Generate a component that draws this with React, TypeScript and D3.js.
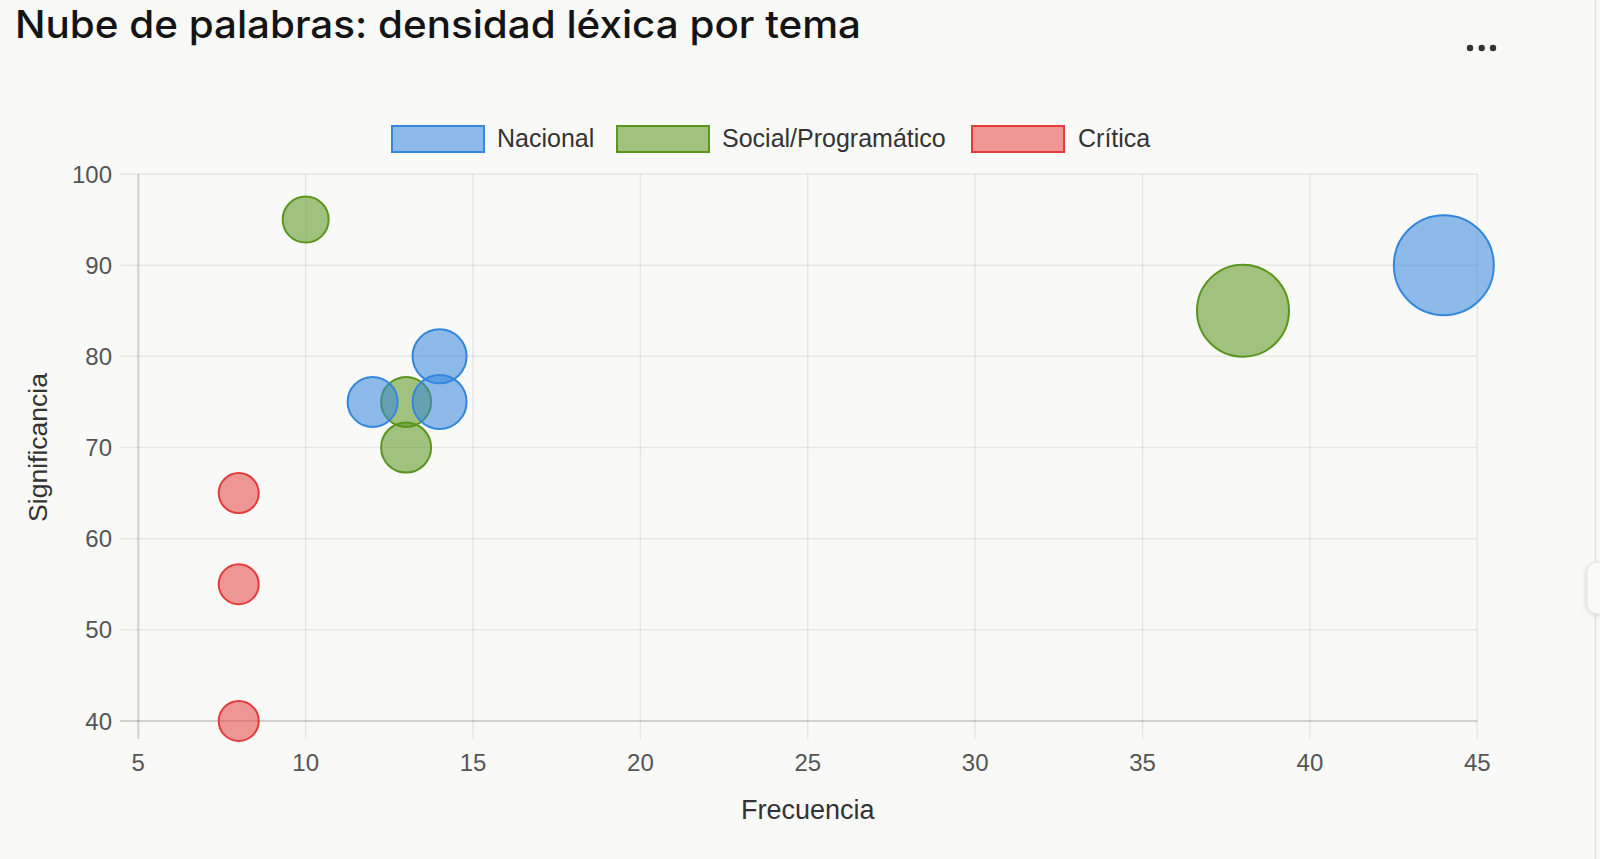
import React from "react";
import * as d3 from "d3";

// ---- Data ----
const seriesNames = ["Nacional", "Social/Programático", "Crítica"];
const nacional = [
  { x: 44, y: 90, r: 25 },
  { x: 14, y: 80, r: 13.5 },
  { x: 14, y: 75, r: 13.5 },
  { x: 12, y: 75, r: 12.5 },
];
const social = [
  { x: 10, y: 95, r: 11.5 },
  { x: 38, y: 85, r: 23 },
  { x: 13, y: 75, r: 12.5 },
  { x: 13, y: 70, r: 12.5 },
];
const critica = [
  { x: 8, y: 65, r: 10 },
  { x: 8, y: 55, r: 10 },
  { x: 8, y: 40, r: 10 },
];
const xTicks = [5, 10, 15, 20, 25, 30, 35, 40, 45];
const yTicks = [40, 50, 60, 70, 80, 90, 100];
const title = "Nube de palabras: densidad léxica por tema";
const xTitle = "Frecuencia";
const yTitle = "Significancia";

const W = 1600;
const H = 859;
const BG = "#f9f9f7";
const FONT = "'Liberation Sans', Arial, Helvetica, sans-serif";

const colors = [
  { stroke: "rgb(52,135,220)", fill: "rgba(52,135,220,0.55)" },
  { stroke: "rgb(90,150,30)", fill: "rgba(90,150,30,0.55)" },
  { stroke: "rgb(228,60,58)", fill: "rgba(228,60,58,0.52)" },
];

export default function App() {
  const x = d3.scaleLinear().domain([5, 45]).range([138.3, 1477.3]);
  const y = d3.scaleLinear().domain([40, 100]).range([721, 174]);
  const rs = d3.scaleLinear().domain([0, 1]).range([0, 2]);
  const datasets = [nacional, social, critica];
  const tickLen = 18;
  const [x0, x1] = x.range();
  const [y0, y1] = y.range();

  const legendItems = [
    { box: 392, text: 497 },
    { box: 617, text: 722 },
    { box: 972, text: 1078 },
  ];

  return (
    <svg
      width={W}
      height={H}
      style={{ position: "absolute", left: 0, top: 0, display: "block" }}
    >
      <defs>
        <filter id="tabShadow" x="-50%" y="-50%" width="200%" height="200%">
          <feDropShadow dx="-1" dy="1" stdDeviation="2" floodColor="#000" floodOpacity="0.12" />
        </filter>
      </defs>
      <rect x={0} y={0} width={W} height={H} fill={BG} />

      {/* Title */}
      <text
        x={15}
        y={38}
        fontFamily="Inter, 'Noto Sans', sans-serif"
        fontWeight={500}
        fontSize={38}
        fill="#141414"
        textLength={846}
        lengthAdjust="spacingAndGlyphs"
      >
        {title}
      </text>

      {/* Menu dots */}
      {[1470, 1481.7, 1493].map((cx, i) => (
        <circle key={i} cx={cx} cy={48} r={3.2} fill="#333" />
      ))}

      {/* Right border & tab */}
      <line x1={1595.5} x2={1595.5} y1={0} y2={H} stroke="#e2e2e0" strokeWidth={1.5} />
      <rect
        x={1587}
        y={562}
        width={24}
        height={52}
        rx={10}
        fill="#fafaf9"
        stroke="#e0e0de"
        strokeWidth={1}
        filter="url(#tabShadow)"
      />

      {/* Legend */}
      {seriesNames.map((name, i) => (
        <g key={name}>
          <rect
            x={legendItems[i].box}
            y={126}
            width={92}
            height={26}
            fill={colors[i].fill}
            stroke={colors[i].stroke}
            strokeWidth={2}
          />
          <text
            x={legendItems[i].text}
            y={147}
            fontFamily={FONT}
            fontSize={25}
            fill="#333"
          >
            {name}
          </text>
        </g>
      ))}

      {/* Grid */}
      {yTicks.map((t) => (
        <line
          key={"gy" + t}
          x1={x0 - tickLen}
          x2={x1}
          y1={y(t)}
          y2={y(t)}
          stroke={t === 40 ? "rgba(0,0,0,0.16)" : "rgba(0,0,0,0.075)"}
          strokeWidth={t === 40 ? 2 : 1.5}
        />
      ))}
      {xTicks.map((t) => (
        <line
          key={"gx" + t}
          x1={x(t)}
          x2={x(t)}
          y1={y1}
          y2={y0 + tickLen}
          stroke={t === 5 ? "rgba(0,0,0,0.16)" : "rgba(0,0,0,0.075)"}
          strokeWidth={t === 5 ? 2 : 1.5}
        />
      ))}

      {/* Tick labels */}
      {yTicks.map((t) => (
        <text
          key={"ty" + t}
          x={112}
          y={y(t) + 8.6}
          textAnchor="end"
          fontFamily={FONT}
          fontSize={24}
          fill="#555"
        >
          {t}
        </text>
      ))}
      {xTicks.map((t) => (
        <text
          key={"tx" + t}
          x={x(t)}
          y={771}
          textAnchor="middle"
          fontFamily={FONT}
          fontSize={24}
          fill="#555"
        >
          {t}
        </text>
      ))}

      {/* Axis titles */}
      <text
        x={(x0 + x1) / 2}
        y={819}
        textAnchor="middle"
        fontFamily={FONT}
        fontSize={27}
        fill="#333"
      >
        {xTitle}
      </text>
      <text
        transform={`translate(47, ${(y0 + y1) / 2}) rotate(-90)`}
        textAnchor="middle"
        fontFamily={FONT}
        fontSize={26.5}
        fill="#333"
      >
        {yTitle}
      </text>

      {/* Bubbles: later datasets drawn first so first dataset ends on top */}
      {datasets
        .map((ds, i) => ({ ds, i }))
        .reverse()
        .map(({ ds, i }) => (
          <g key={"ds" + i}>
            {ds.map((p, j) => (
              <circle
                key={j}
                cx={x(p.x)}
                cy={y(p.y)}
                r={rs(p.r)}
                fill={colors[i].fill}
                stroke={colors[i].stroke}
                strokeWidth={2}
              />
            ))}
          </g>
        ))}
    </svg>
  );
}
